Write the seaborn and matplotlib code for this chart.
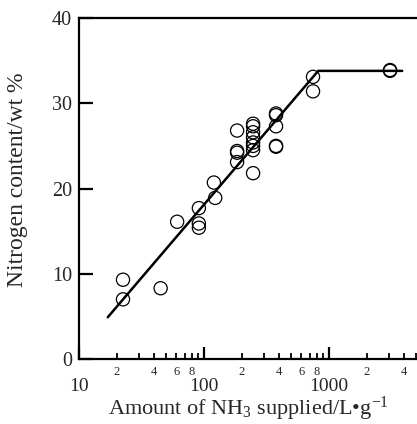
import numpy as np
import pandas as pd
import matplotlib
matplotlib.use('Agg')
import matplotlib.pyplot as plt
import matplotlib.ticker as mticker
import seaborn as sns

# measured points (NH3 supplied L/g, nitrogen wt%)
nh3_amount = [22.5, 22.5, 45, 61, 91, 91, 91, 120, 123,
              184, 184, 184, 184,
              247, 247, 247, 247, 247, 247, 247, 247,
              377, 377, 377, 377, 377,
              745, 745, 3080, 3080]
nitrogen = [9.3, 7.0, 8.3, 16.1, 17.7, 15.9, 15.4, 20.7, 18.9,
            26.8, 24.4, 24.2, 23.1,
            27.6, 27.3, 26.6, 26.0, 25.4, 25.0, 24.5, 21.8,
            28.8, 28.6, 27.3, 25.0, 24.9,
            33.1, 31.4, 33.9, 33.8]

# fitted trend line
fit_x = [17, 820, 3850]
fit_y = [4.9, 33.8, 33.8]

minor_labels = {2: '2', 4: '4', 6: '6', 8: '8'}


def main():
    sns.set_style('ticks')
    plt.rcParams['font.family'] = ['Liberation Serif', 'DejaVu Serif']
    plt.rcParams['mathtext.fontset'] = 'custom'
    plt.rcParams['mathtext.rm'] = 'Liberation Serif'
    plt.rcParams['mathtext.it'] = 'Liberation Serif:italic'

    df = pd.DataFrame({'x': nh3_amount, 'y': nitrogen})
    fit = pd.DataFrame({'x': fit_x, 'y': fit_y})

    fig = plt.figure(figsize=(4.17, 4.24), dpi=100)
    ax = fig.add_axes([0.1894, 0.1533, 0.8106, 0.8042])

    sns.lineplot(data=fit, x='x', y='y', color='black', lw=1.8, ax=ax)
    sns.scatterplot(data=df, x='x', y='y', marker='o', s=90,
                    facecolors='none', edgecolor='black', linewidth=0.9, ax=ax)

    ax.set_xscale('log')
    ax.set_xlim(10, 10 ** 3.704)
    ax.set_ylim(0, 40)

    ax.yaxis.set_major_locator(mticker.MultipleLocator(10))
    ax.xaxis.set_major_locator(mticker.FixedLocator([10, 100, 1000]))
    ax.xaxis.set_major_formatter(mticker.FixedFormatter(['10', '100', '1000']))
    ax.xaxis.set_minor_locator(mticker.LogLocator(subs=np.arange(2, 10)))

    def minor_fmt(v, pos):
        m = int(round(v / 10 ** np.floor(np.log10(v) + 1e-9)))
        return minor_labels.get(m, '')
    ax.xaxis.set_minor_formatter(mticker.FuncFormatter(minor_fmt))

    ax.tick_params(axis='y', which='major', direction='in', length=10,
                   width=1.6, labelsize=14.5, pad=5, color='black')
    ax.tick_params(axis='x', which='major', direction='in', length=9,
                   width=1.6, labelsize=14, pad=13.5, color='black')
    ax.tick_params(axis='x', which='minor', direction='in', length=4.5,
                   width=1.3, labelsize=9, pad=5, color='black')

    for side in ['left', 'bottom', 'top']:
        ax.spines[side].set_linewidth(1.6)
        ax.spines[side].set_color('black')
    ax.spines['right'].set_visible(False)

    ax.set_xlabel('Amount of NH$_3$ supplied/L\u2022g$^{-1}$', fontsize=16)
    ax.xaxis.label.set_va('bottom')
    ax.set_ylabel('Nitrogen content/wt %', fontsize=17)
    ax.yaxis.set_label_coords(-0.15, 0.525)
    ax.xaxis.set_label_coords(0.5, -0.1865)

    fig.savefig('out.png', dpi=100)


if __name__ == '__main__':
    main()
